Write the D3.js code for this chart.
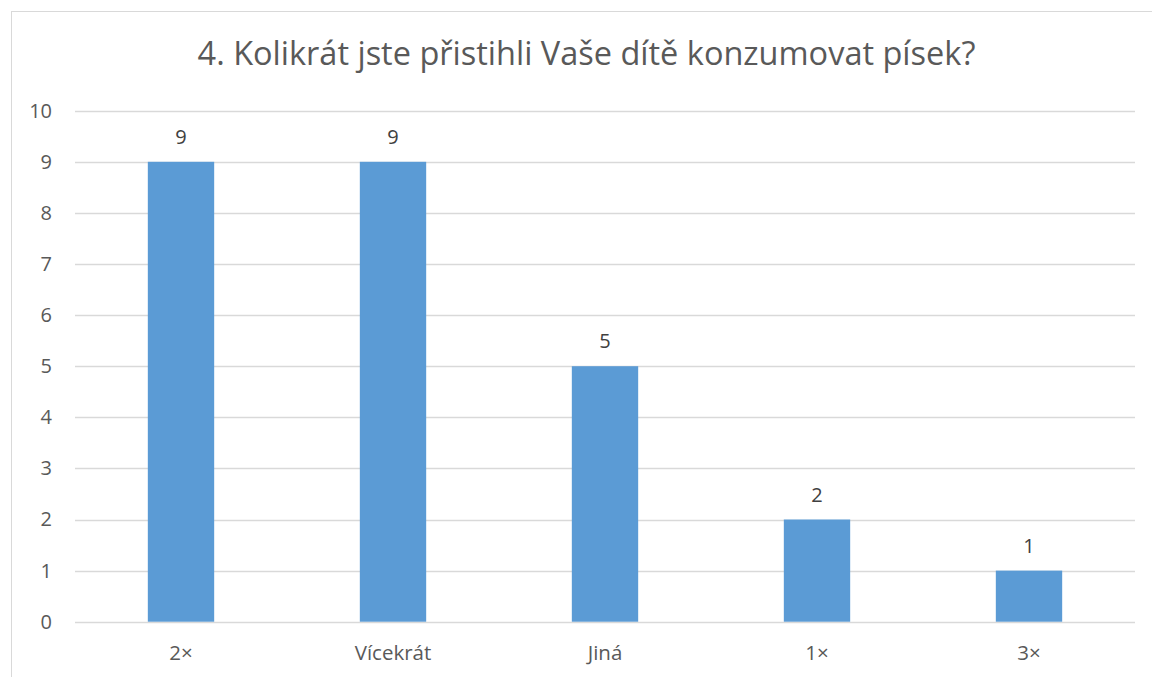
<!DOCTYPE html>
<html>
<head>
<meta charset="utf-8">
<script src="https://cdn.jsdelivr.net/npm/d3@7"></script>
<style>
  body { margin: 0; background: #fff; }
  svg { display: block; font-family: "Open Sans", "Noto Sans", sans-serif; }
</style>
</head>
<body>
<svg id="chart" width="1152" height="677"></svg>
<script>
// chart data
const categories = ["2×", "Vícekrát", "Jiná", "1×", "3×"];
const values = [9, 9, 5, 2, 1];
const yTicks = [0, 1, 2, 3, 4, 5, 6, 7, 8, 9, 10];
const title = "4. Kolikrát jste přistihli Vaše dítě konzumovat písek?";

const svg = d3.select("#chart");
const plot = { left: 75, right: 1135, top: 110.7, bottom: 621.7 };
const textCol = "#595959";
const font = "'Open Sans', 'Noto Sans', sans-serif";

// outer chart border
svg.append("rect")
    .attr("x", 11.5).attr("y", 11.5)
    .attr("width", 1160).attr("height", 700)
    .attr("fill", "none")
    .attr("stroke", "#d9d9d9")
    .attr("stroke-width", 1);

// title
svg.append("text")
    .attr("x", 586.5)
    .attr("y", 65)
    .attr("text-anchor", "middle")
    .attr("fill", textCol)
    .style("font-size", "32.5px")
    .text(title);

const x = d3.scaleBand()
    .domain(categories)
    .range([plot.left, plot.right])
    .paddingInner(0.687)
    .paddingOuter(0.3435);

const y = d3.scaleLinear()
    .domain([0, 10])
    .range([plot.bottom, plot.top]);

// gridlines
svg.append("g")
    .selectAll("line")
    .data(yTicks)
    .join("line")
        .attr("x1", plot.left)
        .attr("x2", plot.right)
        .attr("y1", d => Math.round(y(d)) + 0.5)
        .attr("y2", d => Math.round(y(d)) + 0.5)
        .attr("stroke", "#d9d9d9")
        .attr("stroke-width", 1.3);

// y axis labels
const yAxis = svg.append("g")
    .attr("transform", `translate(${plot.left}, 0)`)
    .call(d3.axisLeft(y).tickValues(yTicks).tickSize(0).tickPadding(23));
yAxis.select(".domain").remove();
yAxis.selectAll("text")
    .attr("fill", textCol)
    .attr("font-size", 20)
    .attr("font-family", font);

// bars
svg.append("g")
    .selectAll("rect")
    .data(values)
    .join("rect")
        .attr("x", (d, i) => x(categories[i]))
        .attr("y", d => y(d))
        .attr("width", x.bandwidth())
        .attr("height", d => y(0) - y(d))
        .attr("fill", "#5b9bd5");

// value labels
svg.append("g")
    .selectAll("text")
    .data(values)
    .join("text")
        .attr("x", (d, i) => x(categories[i]) + x.bandwidth() / 2)
        .attr("y", d => y(d) - 18)
        .attr("text-anchor", "middle")
        .attr("fill", "#404040")
        .attr("font-size", 20)
        .text(d => d);

// x axis labels
const xAxis = svg.append("g")
    .attr("transform", `translate(0, ${plot.bottom})`)
    .call(d3.axisBottom(x).tickSize(0));
xAxis.select(".domain").remove();
xAxis.selectAll("text")
    .attr("y", 38)
    .attr("dy", null)
    .attr("fill", textCol)
    .attr("font-size", 20.5)
    .attr("font-family", font);
</script>
</body>
</html>
